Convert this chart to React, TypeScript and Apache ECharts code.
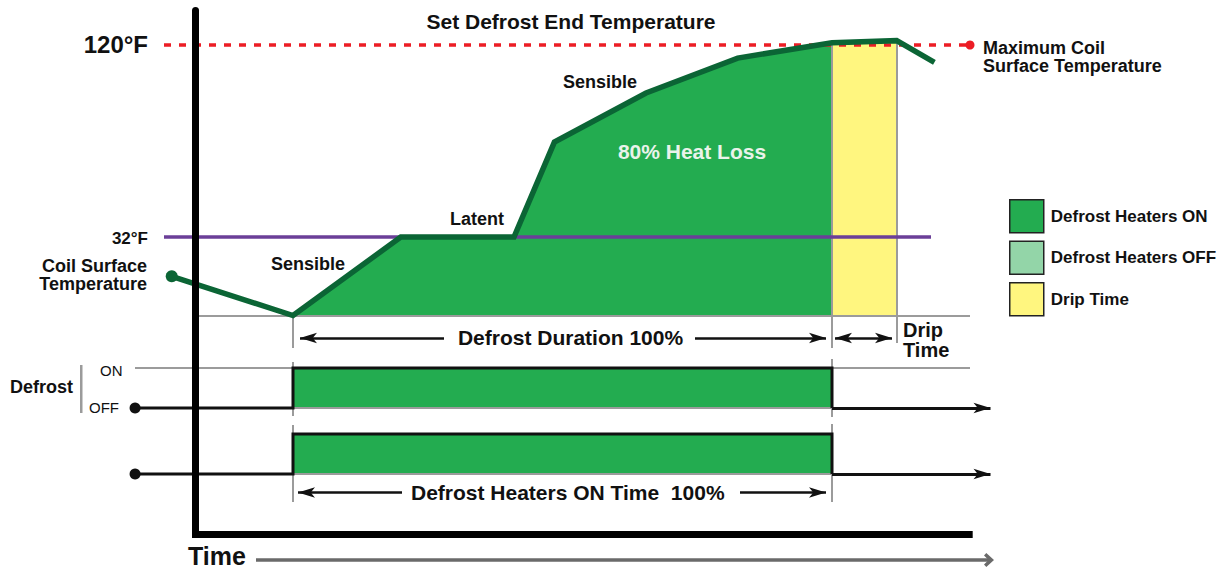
import { useEffect, useRef } from 'react';
import * as echarts from 'echarts';

// ---------------- data ----------------
// time axis: % of the defrost duration (0 = defrost start, 100 = defrost end)
const COIL_TIME = [-22.5, 0, 20, 41, 48.5, 65.5, 82.5, 100, 112, 119];
const COIL_TEMP = [14, -4, 32, 32, 75.5, 98, 114, 121, 122, 112]; // °F
const DEFROST_START = 0;
const DEFROST_END = 100;
const DRIP_END = 112;
const BASE_TEMP = -4;
const FREEZE_TEMP = 32;
const SET_TEMP = 120;
const TEMP_TICK_LABELS = ['120°F', '32°F'];
const SIGNAL_TIME = [-29.3, 0, 0, 100, 100];
const DEFROST_SIGNAL = [0, 0, 1, 1, 0];
const HEATER_SIGNAL = [0, 0, 1, 1, 0];
const SIGNAL_LABELS = ['OFF', 'ON'];
const LEGEND_NAMES = ['Defrost Heaters ON', 'Defrost Heaters OFF', 'Drip Time'];
const PHASE_LABELS = ['Sensible', 'Latent', 'Sensible'];

// ---------------- layout / style ----------------
const FONT = '"Liberation Sans", Arial, Helvetica, sans-serif';
const T_MIN = -30, T_MAX = 130, X_T0 = 293, PX_T = 5.39;
const F_MIN = -20, F_MAX = 140, Y_32 = 237, PX_F = 192 / 88;
const GRID_LEFT = X_T0 + T_MIN * PX_T;
const GRID_W = (T_MAX - T_MIN) * PX_T;
const SIG_PX = 40; // px between OFF and ON
const S1_MIN = -0.3, S1_MAX = 1.3, S1_OFF_Y = 408;
const S2_MIN = -2.3, S2_MAX = 1.3, S2_OFF_Y = 474;
const tx = (px: number) => (px - X_T0) / PX_T;
const fy = (py: number) => FREEZE_TEMP - (py - Y_32) / PX_F;
const s2 = (py: number) => (S2_OFF_Y - py) / SIG_PX;
const CHEVRON = 'path://M0,10L10,0L20,10L16.5,13L10,7L3.5,13Z';

const GREEN = '#23ac50';
const DARK = '#0b6535';
const LIGHT = '#93d5a8';
const YELLOW = '#fff67f';
const RED = '#ec1d25';
const PURPLE = '#6b3f98';
const GRAY = '#9b9b9b';
const INK = '#111';

const seg = (a: number[], b: number[], s1 = 'none', s2 = 'none') => [
  { coord: a, symbol: s1 },
  { coord: b, symbol: s2 },
];

function segSeries(grid: number, color: string, width: number, data: any[], z = 2, symbolSize: any = [8, 17]) {
  return {
    type: 'line', xAxisIndex: grid, yAxisIndex: grid, data: [], z, silent: true, clip: false,
    markLine: {
      z, silent: true, animation: false, symbol: ['none', 'none'], symbolSize, precision: 4,
      label: { show: false }, emphasis: { disabled: true },
      lineStyle: { color, width, type: 'solid', cap: 'butt' },
      data,
    },
  };
}

const txt = (text: string, x: number, y: number, size: number, align = 'left', weight = 'bold', fill = INK, lineHeight?: number) => ({
  type: 'text', x, y, silent: true, z: 20,
  style: {
    text, fill, font: `${weight} ${size}px ${FONT}`, textAlign: align, textVerticalAlign: 'middle',
    ...(lineHeight ? { lineHeight } : {}),
  },
});

const hidden = (gridIndex: number, min: number, max: number) => ({
  type: 'value', gridIndex, min, max, show: false,
  splitLine: { show: false },
});

export default function App() {
  const ref = useRef<HTMLDivElement>(null);
  useEffect(() => {
    const chart = echarts.init(ref.current!, undefined, { renderer: 'svg' });
    const coil = COIL_TIME.map((t, i) => [t, COIL_TEMP[i]]);
    const heat = coil.filter((p) => p[0] >= DEFROST_START && p[0] <= DEFROST_END);
    const drip = coil.filter((p) => p[0] >= DEFROST_END && p[0] <= DRIP_END);
    const tempAt = (t: number) => COIL_TEMP[COIL_TIME.indexOf(t)];

    const signalSeries = (grid: number, values: number[]) => ({
      type: 'line', xAxisIndex: grid, yAxisIndex: grid, z: 4, clip: false, silent: true,
      symbol: 'none', showSymbol: true,
      lineStyle: { color: INK, width: 3, join: 'miter' }, itemStyle: { color: INK },
      data: SIGNAL_TIME.map((t, i) =>
        i === 0 ? { value: [t, values[i]], symbol: 'circle', symbolSize: 11 } : { value: [t, values[i]] }),
    });
    const onArea = (grid: number) => ({
      type: 'line', name: LEGEND_NAMES[0], xAxisIndex: grid, yAxisIndex: grid, z: 1, silent: true,
      symbol: 'none', lineStyle: { width: 0, opacity: 0 }, itemStyle: { color: GREEN },
      areaStyle: { color: GREEN, opacity: 1, origin: 0 },
      data: [[DEFROST_START, 1], [DEFROST_END, 1]],
    });

    const option: any = {
      animation: false,
      grid: [
        { left: GRID_LEFT, width: GRID_W, top: Y_32 - (F_MAX - FREEZE_TEMP) * PX_F, height: (F_MAX - F_MIN) * PX_F },
        { left: GRID_LEFT, width: GRID_W, top: S1_OFF_Y - S1_MAX * SIG_PX, height: (S1_MAX - S1_MIN) * SIG_PX },
        { left: GRID_LEFT, width: GRID_W, top: S2_OFF_Y - S2_MAX * SIG_PX, height: (S2_MAX - S2_MIN) * SIG_PX },
        { left: 195.5, width: 773.7, top: 10.5, height: 523.5 },
      ],
      xAxis: [
        hidden(0, T_MIN, T_MAX), hidden(1, T_MIN, T_MAX), hidden(2, T_MIN, T_MAX),
        {
          type: 'value', gridIndex: 3, min: 0, max: 1, z: 10,
          axisLine: { show: true, onZero: false, lineStyle: { color: '#000', width: 7, cap: 'square' } },
          axisTick: { show: false }, axisLabel: { show: false }, splitLine: { show: false },
        },
      ],
      yAxis: [
        hidden(0, F_MIN, F_MAX), hidden(1, S1_MIN, S1_MAX), hidden(2, S2_MIN, S2_MAX),
        {
          type: 'value', gridIndex: 3, min: 0, max: 1, z: 10,
          axisLine: { show: true, onZero: false, lineStyle: { color: '#000', width: 7 } },
          axisTick: { show: false }, axisLabel: { show: false }, splitLine: { show: false },
        },
      ],
      legend: {
        orient: 'vertical', left: 1009, top: 199, padding: 0, itemWidth: 34, itemHeight: 33, itemGap: 7,
        selectedMode: false, icon: 'rect',
        textStyle: { fontFamily: FONT, fontSize: 17, fontWeight: 'bold', color: INK, padding: [0, 0, 0, 2] },
        itemStyle: { borderColor: '#222', borderWidth: 1.5 },
        data: [
          { name: LEGEND_NAMES[0], itemStyle: { color: GREEN } },
          { name: LEGEND_NAMES[1], itemStyle: { color: LIGHT } },
          { name: LEGEND_NAMES[2], itemStyle: { color: YELLOW } },
        ],
      },
      series: [
        // fills
        {
          type: 'line', name: LEGEND_NAMES[0], xAxisIndex: 0, yAxisIndex: 0, z: 1, silent: true,
          symbol: 'none', lineStyle: { width: 0, opacity: 0 }, itemStyle: { color: GREEN },
          areaStyle: { color: GREEN, opacity: 1, origin: BASE_TEMP }, data: heat,
        },
        {
          type: 'line', name: LEGEND_NAMES[2], xAxisIndex: 0, yAxisIndex: 0, z: 1, silent: true,
          symbol: 'none', lineStyle: { width: 0, opacity: 0 }, itemStyle: { color: YELLOW },
          areaStyle: { color: YELLOW, opacity: 1, origin: BASE_TEMP }, data: drip,
        },
        {
          type: 'line', name: LEGEND_NAMES[1], xAxisIndex: 0, yAxisIndex: 0, data: [],
          itemStyle: { color: LIGHT },
        },
        onArea(1),
        onArea(2),
        // gray guide lines, temperature panel
        segSeries(0, GRAY, 2, [
          seg([tx(199), BASE_TEMP], [tx(970), BASE_TEMP]),
          seg([DEFROST_START, BASE_TEMP], [DEFROST_START, fy(348)]),
          seg([DEFROST_END, tempAt(DEFROST_END)], [DEFROST_END, fy(348)]),
          seg([DRIP_END, tempAt(DRIP_END)], [DRIP_END, fy(343)]),
        ]),
        // gray guide lines, signal panels
        segSeries(1, GRAY, 2, [
          seg([tx(135), 1], [tx(970), 1]),
          seg([DEFROST_START, 0], [DEFROST_END, 0]),
          seg([DEFROST_START, 1.15], [DEFROST_START, -0.2]),
          seg([DEFROST_END, 1.225], [DEFROST_END, -0.225]),
        ]),
        segSeries(2, GRAY, 2, [
          seg([DEFROST_START, 0], [DEFROST_END, 0]),
          seg([DEFROST_START, 1.225], [DEFROST_START, -0.7]),
          seg([DEFROST_END, 1.25], [DEFROST_END, -0.7]),
        ]),
        // freezing point line
        {
          type: 'line', xAxisIndex: 0, yAxisIndex: 0, z: 3, silent: true, symbol: 'none',
          lineStyle: { color: PURPLE, width: 3.5 },
          data: [[tx(164), FREEZE_TEMP], [tx(931), FREEZE_TEMP]],
        },
        // set point dashed line
        {
          type: 'line', xAxisIndex: 0, yAxisIndex: 0, z: 3, silent: true, symbol: 'none', showSymbol: true,
          lineStyle: { color: RED, width: 3.5, type: [7, 8] }, itemStyle: { color: RED },
          data: [
            { value: [tx(164), SET_TEMP] },
            { value: [tx(970), SET_TEMP], symbol: 'circle', symbolSize: 9 },
          ],
        },
        // coil surface temperature curve
        {
          type: 'line', xAxisIndex: 0, yAxisIndex: 0, z: 4, silent: true, symbol: 'none', showSymbol: true,
          lineStyle: { color: DARK, width: 5.5, join: 'miter' }, itemStyle: { color: DARK },
          data: coil.map((p, i) => (i === 0 ? { value: p, symbol: 'circle', symbolSize: 12 } : { value: p })),
        },
        // signals
        signalSeries(1, DEFROST_SIGNAL),
        signalSeries(2, HEATER_SIGNAL),
        segSeries(1, INK, 3, [seg([DEFROST_END, 0], [tx(990.5), 0], 'none', 'arrow')], 4),
        segSeries(2, INK, 3, [seg([DEFROST_END, 0], [tx(990.5), 0], 'none', 'arrow')], 4),
        // dimension arrows
        segSeries(0, INK, 2.5, [
          seg([tx(300), fy(338)], [tx(444), fy(338)], 'arrow', 'none'),
          seg([tx(695), fy(338)], [tx(826), fy(338)], 'none', 'arrow'),
          seg([tx(835), fy(338)], [tx(892), fy(338)], 'arrow', 'arrow'),
        ], 4),
        segSeries(2, INK, 2.5, [
          seg([tx(298), s2(492.5)], [tx(402), s2(492.5)], 'arrow', 'none'),
          seg([tx(740), s2(492.5)], [tx(826), s2(492.5)], 'none', 'arrow'),
        ], 4),
        // time arrow
        segSeries(2, '#6a6a6a', 3.5, [
          seg([tx(256), s2(560)], [tx(989), s2(560)], 'none', CHEVRON),
        ], 4, [14, 10]),
      ],
      graphic: [
        txt('Set Defrost End Temperature', 571, 21.5, 21, 'center'),
        txt(TEMP_TICK_LABELS[0], 148, 44, 24, 'right'),
        txt(TEMP_TICK_LABELS[1], 148, 238, 17, 'right'),
        txt('Coil Surface\nTemperature', 147, 275, 18, 'right', 'bold', INK, 18),
        txt(PHASE_LABELS[0], 271, 263.5, 18),
        txt(PHASE_LABELS[1], 450, 219, 18),
        txt(PHASE_LABELS[2], 563, 81.5, 18),
        txt('80% Heat Loss', 692, 151.5, 21, 'center', 'bold', '#eaf3ea'),
        txt('Maximum Coil\nSurface Temperature', 983, 56.5, 18, 'left', 'bold', INK, 18),
        txt('Defrost Duration 100%', 570.5, 337, 21, 'center'),
        txt('Drip\nTime', 903, 339.5, 20, 'left', 'bold', INK, 20),
        txt('Defrost', 10, 387, 18),
        txt(SIGNAL_LABELS[1], 100, 370, 15, 'left', 'normal'),
        txt(SIGNAL_LABELS[0], 89, 407.5, 15, 'left', 'normal'),
        txt('Defrost Heaters ON Time  100%', 411, 492.5, 21),
        txt('Time', 188, 556, 25),
        { type: 'rect', silent: true, shape: { x: 80, y: 365, width: 2.5, height: 48 }, style: { fill: GRAY } },
      ],
    };
    chart.setOption(option);
    return () => chart.dispose();
  }, []);
  return (
    <div
      ref={ref}
      style={{ position: 'fixed', left: 0, top: 0, width: 1231, height: 569, background: '#fff' }}
    />
  );
}
